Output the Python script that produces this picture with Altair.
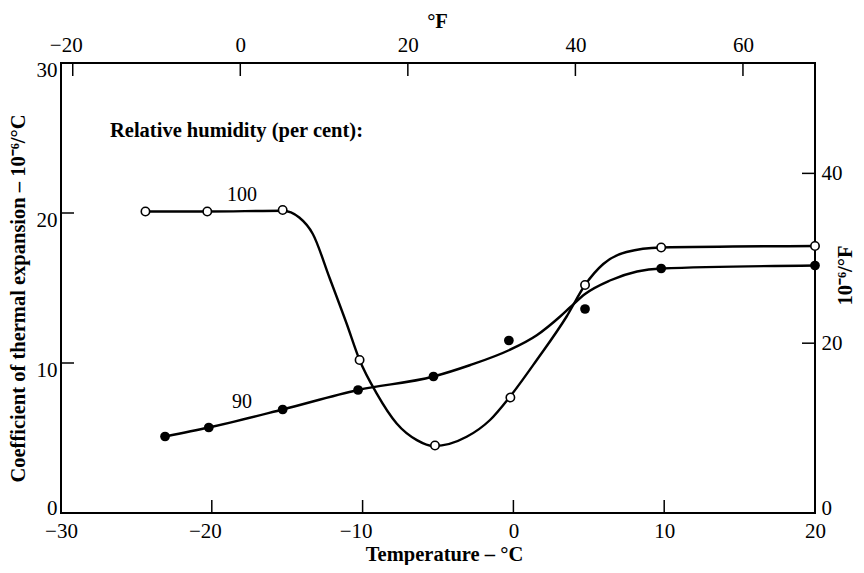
import altair as alt
import pandas as pd

# ---- data ----
# 100 % relative humidity: measured points (open circles)
rh100_t = [-24.4, -20.3, -15.3, -10.2, -5.2, -0.2, 4.75, 9.8, 20.0]
rh100_a = [20.1, 20.1, 20.2, 10.2, 4.5, 7.7, 15.2, 17.7, 17.8]
# 100 % fitted curve (traced)
c100_t = [-24.4, -20.3, -15.3, -14.2, -13.3, -12.2, -11.05, -10.2, -9.06, -7.74,
          -6.4, -5.27, -3.1, -1.55, -0.27, 1.55, 3.53, 4.75, 5.96, 7.5, 9.77, 20.0]
c100_a = [20.1, 20.1, 20.15, 19.7, 18.6, 15.7, 12.6, 10.2, 7.96, 5.97,
          4.86, 4.46, 5.08, 6.2, 7.7, 10.2, 13.1, 15.2, 16.6, 17.4, 17.7, 17.8]

# 90 % relative humidity: measured points (filled circles)
rh90_t = [-23.1, -20.2, -15.3, -10.3, -5.3, -0.3, 4.75, 9.8, 20.0]
rh90_a = [5.1, 5.7, 6.9, 8.2, 9.1, 11.5, 13.6, 16.3, 16.5]
# 90 % fitted curve (traced)
c90_t = [-23.1, -20.2, -15.3, -10.3, -5.3, -2.9, -0.3, 1.55, 3.1, 3.75, 4.75,
         6.4, 8.2, 9.8, 20.0]
c90_a = [5.1, 5.7, 6.9, 8.2, 9.1, 9.85, 10.85, 11.85, 13.1, 13.7, 14.6,
         15.5, 16.1, 16.3, 16.5]

# axis tick values
x_ticks_c = [-30, -20, -10, 0, 10, 20]
y_ticks_c = [0, 10, 20, 30]
x_ticks_f = [-20, 0, 20, 40, 60]
y_ticks_f = [0, 20, 40]

# annotation texts
legend_title = "Relative humidity (per cent):"
series_names = ["100", "90"]
series_lab_t = [-18.0, -18.0]
series_lab_a = [21.2, 7.42]

FONT = "Liberation Serif"
W, H = 754, 450

# ---- tables ----
curves = pd.concat([
    pd.DataFrame({"C": c100_t, "v": c100_a, "s": "100"}),
    pd.DataFrame({"C": c90_t, "v": c90_a, "s": "90"}),
])
open_pts = pd.DataFrame({"C": rh100_t, "v": rh100_a})
filled_pts = pd.DataFrame({"C": rh90_t, "v": rh90_a})
labels = pd.DataFrame({"C": series_lab_t, "v": series_lab_a, "t": series_names})
legend_df = pd.DataFrame({"C": [-26.75], "v": [25.47], "t": [legend_title]})

bt_df = pd.DataFrame({"C": [t for t in x_ticks_c if -30 < t < 20]})
lt_df = pd.DataFrame({"v": [t for t in y_ticks_c if 0 < t < 30]})
tt_df = pd.DataFrame({"F": x_ticks_f})
rt_df = pd.DataFrame({"R": [t for t in y_ticks_f if t > 0]})

# ---- scales / axes ----
xs = alt.Scale(domain=[-30, 20], nice=False, zero=False)
ys = alt.Scale(domain=[0, 30], nice=False, zero=False)
fs = alt.Scale(domain=[-21.4, 68.6], nice=False, zero=False)
rs = alt.Scale(domain=[0, 53], nice=False, zero=False)

axis_bottom = alt.Axis(
    orient="bottom", values=x_ticks_c, format="d", labelPadding=7,
    labelFlush=False, labelOverlap=False,
    labelOffset={"condition": {"test": "datum.value < 0 && datum.value > -30", "value": -7}, "value": 0},
    title="Temperature – °C", titleBaseline="alphabetic", titleX=383, titleY=47,
    titleAlign="center", titleAngle=0,
)
axis_left = alt.Axis(
    orient="left", values=y_ticks_c, format="d", labelPadding=4,
    labelFlush=False, labelOverlap=False,
    labelOffset={"condition": {"test": "datum.value == 0", "value": -5}, "value": 7},
    title="Coefficient of thermal expansion – 10⁻⁶/°C", titleX=-37, titleY=235,
    titleAngle=-90, titleBaseline="alphabetic", titleAlign="center",
)
axis_top = alt.Axis(
    orient="top", values=x_ticks_f, format="d", labelPadding=8,
    labelFlush=False, labelOverlap=False,
    labelOffset={"condition": {"test": "datum.value < 0", "value": -7}, "value": 0},
    title="°F", titleX=376, titleY=-36, titleBaseline="alphabetic", titleAlign="center",
    titleAngle=0,
)
axis_right = alt.Axis(
    orient="right", values=y_ticks_f, format="d", labelPadding=6,
    labelFlush=False, labelOverlap=False,
    labelOffset={"condition": {"test": "datum.value == 0", "value": -5}, "value": 0},
    title="10⁻⁶/°F", titleX=36, titleY=212, titleAngle=-90,
    titleBaseline="alphabetic", titleAlign="center",
)

X = alt.X("C:Q", scale=xs, axis=axis_bottom)
Y = alt.Y("v:Q", scale=ys, axis=axis_left)

lines = alt.Chart(curves).mark_line(
    interpolate="monotone", color="black", strokeWidth=2.4
).encode(x=X, y=Y, detail="s:N")

filled = alt.Chart(filled_pts).mark_circle(
    size=95, color="black", opacity=1
).encode(x=X, y=Y)

opened = alt.Chart(open_pts).mark_point(
    shape="circle", filled=True, fill="white", stroke="black",
    strokeWidth=1.6, size=70, opacity=1
).encode(x=X, y=Y)

series_text = alt.Chart(labels).mark_text(
    font=FONT, fontSize=20, color="black", align="center", baseline="middle"
).encode(x=X, y=Y, text="t:N")

legend_text = alt.Chart(legend_df).mark_text(
    font=FONT, fontSize=20.5, fontWeight="bold", color="black",
    align="left", baseline="middle"
).encode(x=X, y=Y, text="t:N")

bottom_ticks = alt.Chart(bt_df).mark_rule(color="black", strokeWidth=1.5).encode(
    x=X, y=alt.value(H), y2=alt.value(H - 13)
)
left_ticks = alt.Chart(lt_df).mark_rule(color="black", strokeWidth=1.5).encode(
    y=Y, x=alt.value(0), x2=alt.value(13)
)

main = alt.layer(lines, filled, opened, series_text, legend_text,
                 bottom_ticks, left_ticks)

top_ticks = alt.Chart(tt_df).mark_rule(color="black", strokeWidth=1.5).encode(
    x=alt.X("F:Q", scale=fs, axis=axis_top), y=alt.value(0), y2=alt.value(13)
)
right_ticks = alt.Chart(rt_df).mark_rule(color="black", strokeWidth=1.5).encode(
    y=alt.Y("R:Q", scale=rs, axis=axis_right), x=alt.value(W), x2=alt.value(W - 13)
)

chart = alt.layer(main, top_ticks, right_ticks).resolve_scale(
    x="independent", y="independent"
).properties(
    width=W, height=H,
    autosize=alt.AutoSizeParams(type="none"),
    padding={"left": 53, "top": 55, "right": 41, "bottom": 52},
    background="white",
).configure_view(
    stroke="black", strokeWidth=2
).configure_axis(
    labelFont=FONT, labelFontSize=21, labelColor="black",
    titleFont=FONT, titleFontSize=20.5, titleFontWeight="bold", titleColor="black",
    domain=False, ticks=False, grid=False,
)

chart.save("out.html", embed_options={"renderer": "svg", "actions": False})
